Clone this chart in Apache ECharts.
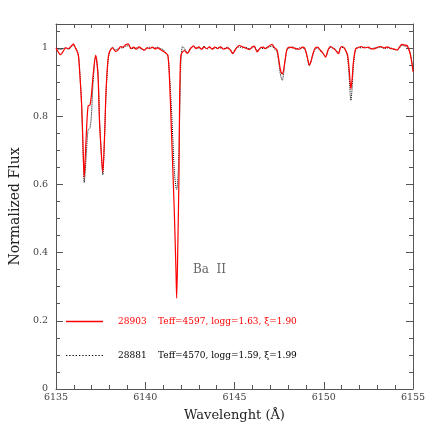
<!DOCTYPE html>
<html>
<head>
<meta charset="utf-8">
<script src="https://cdn.jsdelivr.net/npm/echarts@6.0.0/dist/echarts.min.js"></script>
<style>
  html, body { margin: 0; padding: 0; background: #fff; }
  #chart { width: 436px; height: 436px; }
</style>
</head>
<body>
<div id="chart"></div>
<script>
// Wavelength grid (Angstrom)
const wavelength = [
  6135.00, 6135.10, 6135.25, 6135.40, 6135.55, 6135.70, 6135.85, 6135.98, 6136.08, 6136.18,
  6136.26, 6136.35, 6136.44, 6136.53, 6136.58, 6136.64, 6136.71, 6136.80, 6136.90, 6136.98,
  6137.08, 6137.22, 6137.35, 6137.44, 6137.57, 6137.62, 6137.72, 6137.80, 6137.90, 6137.99,
  6138.17, 6138.33, 6138.50, 6138.61, 6138.75, 6138.90, 6139.05, 6139.20, 6139.35, 6139.50,
  6139.65, 6139.80, 6139.95, 6140.10, 6140.25, 6140.40, 6140.55, 6140.70, 6140.85, 6141.00,
  6141.15, 6141.27, 6141.36, 6141.45, 6141.54, 6141.63, 6141.72, 6141.76, 6141.83, 6141.89,
  6141.92, 6141.96, 6142.00, 6142.09, 6142.20, 6142.36, 6142.54, 6142.70, 6142.85, 6143.00,
  6143.15, 6143.30, 6143.45, 6143.60, 6143.75, 6143.90, 6144.05, 6144.20, 6144.40, 6144.60,
  6144.75, 6144.91, 6145.05, 6145.27, 6145.45, 6145.60, 6145.82, 6146.00, 6146.10, 6146.27,
  6146.45, 6146.60, 6146.75, 6146.90, 6147.09, 6147.25, 6147.37, 6147.46, 6147.58, 6147.68,
  6147.75, 6147.83, 6147.95, 6148.10, 6148.28, 6148.45, 6148.64, 6148.80, 6148.92, 6149.02,
  6149.10, 6149.19, 6149.28, 6149.37, 6149.50, 6149.64, 6149.82, 6149.95, 6150.10, 6150.25,
  6150.37, 6150.50, 6150.64, 6150.83, 6150.92, 6151.01, 6151.15, 6151.25, 6151.34, 6151.43,
  6151.52, 6151.60, 6151.65, 6151.78, 6151.90, 6152.10, 6152.30, 6152.50, 6152.65, 6152.83,
  6153.00, 6153.20, 6153.40, 6153.55, 6153.75, 6153.92, 6154.11, 6154.25, 6154.38, 6154.55,
  6154.66, 6154.84, 6154.98, 6155.00,
]

// Star 28903 (red solid)
const flux28903 = [
  1.000, 0.990, 0.980, 0.990, 1.000, 0.998, 1.005, 1.012, 1.000, 0.990,
  0.975, 0.910, 0.830, 0.685, 0.620, 0.680, 0.760, 0.830, 0.832, 0.860,
  0.920, 0.978, 0.920, 0.780, 0.665, 0.636, 0.740, 0.870, 0.958, 0.988,
  1.000, 0.990, 0.995, 1.004, 1.002, 1.009, 1.012, 0.998, 1.002, 0.996,
  1.003, 0.998, 0.993, 1.000, 0.998, 1.002, 0.997, 1.000, 0.995, 0.990,
  0.985, 0.978, 0.905, 0.780, 0.650, 0.515, 0.348, 0.266, 0.436, 0.632,
  0.827, 0.944, 0.978, 0.988, 0.992, 0.984, 0.998, 1.006, 0.998, 1.003,
  0.996, 1.002, 0.998, 1.003, 0.996, 1.002, 0.998, 1.003, 0.996, 1.000,
  0.995, 0.983, 0.995, 1.007, 1.003, 1.000, 0.995, 1.003, 1.005, 0.988,
  1.000, 1.002, 0.998, 1.004, 1.010, 1.000, 0.995, 0.973, 0.934, 0.924,
  0.935, 0.963, 0.997, 1.002, 1.000, 0.998, 0.996, 1.002, 1.000, 0.985,
  0.968, 0.950, 0.960, 0.978, 0.998, 1.002, 0.993, 0.985, 0.973, 0.995,
  1.004, 1.000, 0.994, 0.983, 0.998, 1.004, 1.000, 0.990, 0.978, 0.934,
  0.880, 0.915, 0.953, 0.997, 1.000, 1.004, 1.000, 1.002, 0.998, 0.997,
  1.002, 1.004, 1.000, 1.003, 0.998, 0.997, 0.993, 1.003, 1.010, 1.008,
  1.007, 0.983, 0.939, 0.930,
]

// Star 28881 (black dotted)
const flux28881 = [
  1.000, 0.997, 0.995, 0.998, 1.000, 0.996, 1.002, 1.008, 1.002, 0.992,
  0.978, 0.915, 0.820, 0.670, 0.605, 0.640, 0.700, 0.760, 0.765, 0.800,
  0.900, 0.975, 0.930, 0.790, 0.660, 0.628, 0.740, 0.860, 0.950, 0.985,
  1.002, 0.994, 0.998, 1.000, 1.000, 1.005, 1.006, 1.000, 0.998, 1.000,
  1.000, 0.996, 0.995, 1.000, 1.002, 1.000, 1.000, 1.002, 0.998, 0.995,
  0.985, 0.975, 0.920, 0.840, 0.740, 0.640, 0.590, 0.585, 0.620, 0.700,
  0.780, 0.875, 0.960, 1.005, 0.998, 0.986, 1.000, 1.004, 1.000, 1.000,
  0.998, 1.005, 0.996, 1.002, 0.998, 1.000, 1.000, 1.000, 0.998, 1.002,
  0.995, 0.985, 0.998, 1.003, 1.000, 1.002, 0.998, 1.000, 1.004, 0.992,
  1.000, 0.998, 1.000, 1.002, 1.005, 0.996, 0.990, 0.965, 0.920, 0.905,
  0.925, 0.960, 0.995, 1.000, 1.003, 0.995, 1.000, 1.000, 0.998, 0.985,
  0.965, 0.948, 0.958, 0.975, 0.995, 1.000, 0.990, 0.985, 0.975, 0.993,
  1.002, 1.000, 0.996, 0.985, 1.000, 1.002, 0.998, 0.990, 0.970, 0.910,
  0.846, 0.890, 0.940, 0.995, 1.002, 1.000, 1.002, 1.000, 0.997, 1.000,
  1.000, 1.002, 0.998, 1.000, 1.000, 0.995, 0.995, 1.000, 1.008, 1.005,
  1.004, 0.985, 0.945, 0.935,
]

// Legend labels
const starIds = ['28903', '28881']
const starParams = ['Teff=4597, logg=1.63, ξ=1.90', 'Teff=4570, logg=1.59, ξ=1.99']

// Axis ticks
const xTicks = [6135, 6140, 6145, 6150, 6155]
const yTicks = [0, 0.2, 0.4, 0.6, 0.8, 1]

const zip = (xs, ys) => xs.map((x, i) => [x, ys[i]])

const FONT = 'DejaVu Serif'
const AXIS_COLOR = '#555'
const RED = '#ff0000'

// legend icons: a plain bar for the solid line, a row of small squares for the dotted one
const dottedIcon = 'path://' + Array.from({ length: 12 }, (_, i) => `M${i * 3},0h1.2v1h-1.2z`).join('')

const chart = echarts.init(document.getElementById('chart'), null, { renderer: 'canvas' })

// shared look for the box axes (ticks point inward on all four sides)
const boxAxis = {
  axisLine: { show: true, onZero: false, lineStyle: { color: AXIS_COLOR, width: 1 } },
  axisTick: { show: true, inside: true, length: 7, lineStyle: { color: AXIS_COLOR } },
  minorTick: { show: true, splitNumber: 5, length: 4, lineStyle: { color: AXIS_COLOR } },
  splitLine: { show: false },
}

const option = {
  backgroundColor: '#fff',
  animation: false,
  grid: { left: 47, right: 23, top: 24, bottom: 47 },
  xAxis: [
    {
      ...boxAxis,
      type: 'value',
      min: xTicks[0],
      max: xTicks[xTicks.length - 1],
      interval: 5,
      name: 'Wavelenght (Å)',
      nameLocation: 'middle',
      nameGap: 20,
      nameTextStyle: { fontFamily: FONT, fontSize: 13, color: '#222' },
      axisLabel: {
        fontFamily: FONT,
        fontSize: 9.5,
        color: '#444',
        margin: 4,
        formatter: (v) => String(v),
      },
    },
    {
      ...boxAxis,
      type: 'value',
      position: 'top',
      min: xTicks[0],
      max: xTicks[xTicks.length - 1],
      interval: 5,
      axisLabel: { show: false },
    },
  ],
  yAxis: [
    {
      ...boxAxis,
      type: 'value',
      min: 0,
      max: 1.07,
      interval: 0.2,
      minorTick: { ...boxAxis.minorTick, splitNumber: 4 },
      name: 'Normalized Flux',
      nameLocation: 'middle',
      nameGap: 32,
      nameTextStyle: { fontFamily: FONT, fontSize: 14, color: '#222' },
      axisLabel: {
        fontFamily: FONT,
        fontSize: 9.5,
        color: '#444',
        margin: 8,
        showMaxLabel: false,
        formatter: (v) => (yTicks.some((t) => Math.abs(t - v) < 1e-6) ? String(+v.toFixed(1)) : ''),
      },
    },
    {
      ...boxAxis,
      type: 'value',
      position: 'right',
      min: 0,
      max: 1.07,
      interval: 0.2,
      minorTick: { ...boxAxis.minorTick, splitNumber: 4 },
      axisLabel: { show: false },
    },
  ],
  legend: {
    orient: 'vertical',
    left: 61,
    top: 312,
    itemWidth: 37,
    itemHeight: 1.4,
    itemGap: 25,
    data: [
      { name: starIds[0], icon: 'rect', itemStyle: { color: RED, borderWidth: 0, borderColor: RED } },
      { name: starIds[1], icon: dottedIcon, itemStyle: { color: '#000', borderWidth: 0, borderColor: '#000' } },
    ],
    formatter: (name) => {
      const i = starIds.indexOf(name)
      const k = i === 0 ? 'R' : 'K'
      return `{id${k}|${name}}{par${k}|${starParams[i]}}`
    },
    textStyle: {
      fontFamily: FONT,
      fontSize: 9,
      padding: [0, 0, 0, 10],
      rich: {
        idR: { color: RED, fontFamily: FONT, fontSize: 9, width: 40 },
        parR: { color: RED, fontFamily: FONT, fontSize: 9 },
        idK: { color: '#000', fontFamily: FONT, fontSize: 9, width: 40 },
        parK: { color: '#000', fontFamily: FONT, fontSize: 9 },
      },
    },
  },
  graphic: [
    {
      type: 'text',
      left: 193,
      top: 264,
      style: { text: 'Ba  II', fontFamily: FONT, fontSize: 12, fill: '#666' },
    },
  ],
  series: [
    {
      name: starIds[1],
      type: 'line',
      data: zip(wavelength, flux28881),
      symbol: 'none',
      smooth: 0.3,
      itemStyle: { color: '#000' },
      lineStyle: { color: '#000', width: 1, type: 'dotted' },
      z: 2,
    },
    {
      name: starIds[0],
      type: 'line',
      data: zip(wavelength, flux28903),
      symbol: 'none',
      smooth: 0.3,
      itemStyle: { color: RED },
      lineStyle: { color: RED, width: 1.2 },
      z: 3,
    },
  ],
}

chart.setOption(option)
</script>
</body>
</html>
